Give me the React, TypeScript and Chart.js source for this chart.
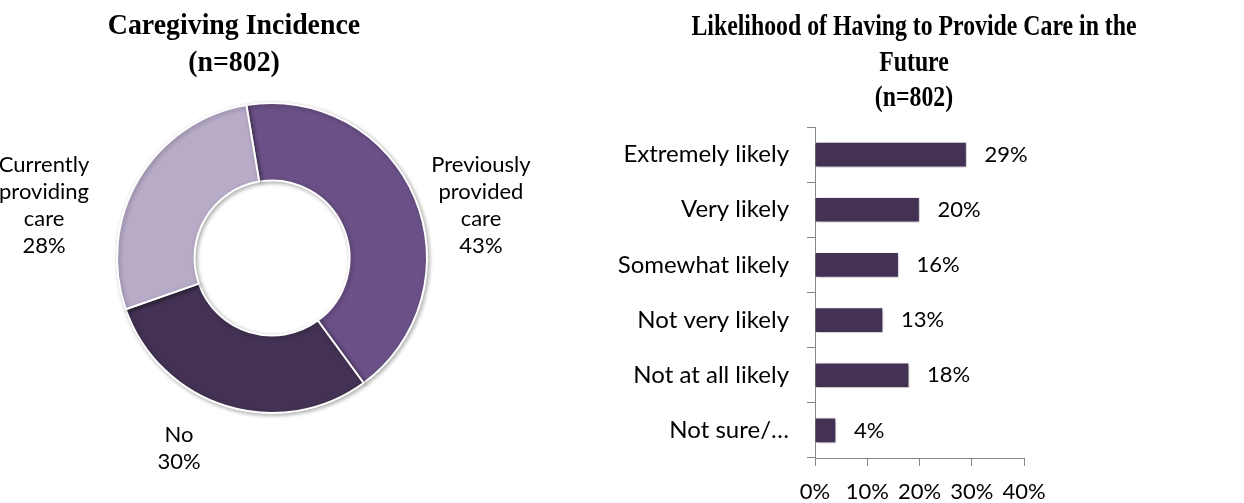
import React, { useEffect, useRef } from 'react';
import { Chart, registerables } from 'chart.js';

Chart.register(...registerables);

// ---- Data ----
const incidenceCategories = ['Previously provided care', 'No', 'Currently providing care'];
const incidenceLabelLines = [['Previously', 'provided', 'care'], ['No'], ['Currently', 'providing', 'care']];
const incidenceValues = [43, 30, 28];

const likelihoodCategories = ['Extremely likely', 'Very likely', 'Somewhat likely', 'Not very likely', 'Not at all likely', 'Not sure/…'];
const likelihoodValues = [29, 20, 16, 13, 18, 4];

const xAxisMin = 0;
const xAxisMax = 40;
const xAxisStep = 10;

const leftTitle = ['Caregiving Incidence', '(n=802)'];
const rightTitle = ['Likelihood of Having to Provide Care in the', 'Future', '(n=802)'];

// ---- Styles ----
const SLICE_COLORS = ['#6a5086', '#433253', '#b7abc8'];
const BAR_COLOR = '#433253';
const AXIS_COLOR = '#868686';
const LABEL_FONT = 'Lato, "Open Sans", sans-serif';
const LABEL_SIZE = 22;
const CAT_SIZE = 24;
const TITLE_FONT = '"Liberation Serif", "Times New Roman", serif';

const titlePlugin = {
  id: 'customTitle',
  afterDraw(chart: any, _args: any, opts: any) {
    const { ctx } = chart;
    ctx.save();
    ctx.font = `bold ${opts.size}px ${TITLE_FONT}`;
    ctx.fillStyle = '#000';
    ctx.textAlign = 'center';
    ctx.textBaseline = 'alphabetic';
    ctx.translate(opts.x, 0);
    ctx.scale(opts.scaleX, 1);
    (opts.lines as string[]).forEach((line, i) => {
      ctx.fillText(line, 0, opts.y + i * opts.lineHeight);
    });
    ctx.restore();
  },
};

const shadowPlugin = {
  id: 'softShadow',
  beforeDatasetDraw(chart: any) {
    const { ctx } = chart;
    ctx.save();
    ctx.shadowColor = 'rgba(0,0,0,0.3)';
    ctx.shadowBlur = 4;
    ctx.shadowOffsetX = 1.5;
    ctx.shadowOffsetY = 1.5;
  },
  afterDatasetDraw(chart: any) {
    chart.ctx.restore();
  },
};

const donutLabelPlugin = {
  id: 'donutLabels',
  afterDraw(chart: any, _args: any, opts: any) {
    const { ctx } = chart;
    const meta = chart.getDatasetMeta(0);
    const arc0 = meta.data[0] as any;
    const cx = arc0.x;
    const cy = arc0.y;
    const R = arc0.outerRadius;
    ctx.save();
    ctx.font = `${LABEL_SIZE}px ${LABEL_FONT}`;
    ctx.fillStyle = '#000';
    ctx.textAlign = 'center';
    ctx.textBaseline = 'middle';
    meta.data.forEach((_arc: any, i: number) => {
      const lines = [...incidenceLabelLines[i], `${incidenceValues[i]}%`];
      const [fx, fy] = opts.offsets[i];
      const bx = cx + fx * R;
      const by = cy + fy * R;
      const lh = opts.lineHeight;
      const startY = by - ((lines.length - 1) * lh) / 2;
      lines.forEach((t, j) => ctx.fillText(t, bx, startY + j * lh));
    });
    ctx.restore();
  },
};

const barLabelPlugin = {
  id: 'barLabels',
  afterDatasetsDraw(chart: any) {
    const { ctx } = chart;
    const meta = chart.getDatasetMeta(0);
    ctx.save();
    ctx.font = `${LABEL_SIZE}px ${LABEL_FONT}`;
    ctx.fillStyle = '#000';
    ctx.textAlign = 'left';
    ctx.textBaseline = 'middle';
    meta.data.forEach((bar: any, i: number) => {
      ctx.fillText(`${likelihoodValues[i]}%`, bar.x + 18, bar.y);
    });
    ctx.restore();
  },
};

function DonutChart() {
  const ref = useRef<HTMLCanvasElement | null>(null);
  useEffect(() => {
    if (!ref.current) return;
    const chart = new Chart(ref.current, {
      type: 'doughnut',
      data: {
        labels: incidenceCategories,
        datasets: [
          {
            data: incidenceValues,
            backgroundColor: SLICE_COLORS,
            borderColor: '#ffffff',
            borderWidth: 2,
          },
        ],
      },
      options: {
        animation: false,
        responsive: false,
        devicePixelRatio: 1,
        rotation: -9.5,
        cutout: '50%',
        radius: 155,
        layout: { padding: { left: 112, right: 128, top: 98, bottom: 85 } },
        plugins: {
          legend: { display: false },
          tooltip: { enabled: false },
          customTitle: { lines: leftTitle, x: 234, y: 34, lineHeight: 37, size: 29, scaleX: 0.96 },
          donutLabels: {
            offsets: [
              [1.348, -0.342],
              [-0.6, 1.23],
              [-1.471, -0.342],
            ],
            lineHeight: 27,
          },
        } as any,
      },
      plugins: [shadowPlugin, titlePlugin, donutLabelPlugin],
    });
    return () => chart.destroy();
  }, []);
  return (
    <canvas
      ref={ref}
      width={560}
      height={503}
      style={{ position: 'absolute', left: 0, top: 0, width: 560, height: 503 }}
    />
  );
}

function BarChart() {
  const ref = useRef<HTMLCanvasElement | null>(null);
  useEffect(() => {
    if (!ref.current) return;
    const chart = new Chart(ref.current, {
      type: 'bar',
      data: {
        labels: likelihoodCategories,
        datasets: [
          {
            data: likelihoodValues,
            backgroundColor: BAR_COLOR,
            borderColor: '#ffffff',
            borderWidth: 1,
            barThickness: 25,
          },
        ],
      },
      options: {
        indexAxis: 'y',
        animation: false,
        responsive: false,
        devicePixelRatio: 1,
        layout: { padding: { left: 0, right: 220, top: 127, bottom: 0 } },
        scales: {
          x: {
            min: xAxisMin,
            max: xAxisMax,
            ticks: {
              stepSize: xAxisStep,
              callback: (v: any) => `${v}%`,
              font: { family: LABEL_FONT, size: LABEL_SIZE, lineHeight: 1.0 },
              color: '#000',
              padding: 15,
              maxRotation: 0,
            },
            grid: { drawOnChartArea: false, drawTicks: true, tickLength: 8, color: AXIS_COLOR },
            border: { color: AXIS_COLOR, width: 1 },
            afterFit: (scale: any) => {
              scale.height = 45;
            },
          },
          y: {
            ticks: {
              font: { family: LABEL_FONT, size: CAT_SIZE },
              color: '#000',
              padding: 18,
            },
            grid: { offset: true, drawOnChartArea: false, drawTicks: true, tickLength: 8, color: AXIS_COLOR },
            border: { color: AXIS_COLOR, width: 1 },
            afterFit: (scale: any) => {
              scale.width = 255;
            },
          },
        },
        plugins: {
          legend: { display: false },
          tooltip: { enabled: false },
          customTitle: { lines: rightTitle, x: 354, y: 35, lineHeight: 35.5, size: 29, scaleX: 0.82 },
        } as any,
      },
      plugins: [shadowPlugin, barLabelPlugin, titlePlugin],
    });
    return () => chart.destroy();
  }, []);
  return (
    <canvas
      ref={ref}
      width={684}
      height={503}
      style={{ position: 'absolute', left: 560, top: 0, width: 684, height: 503 }}
    />
  );
}

export default function App() {
  return (
    <div style={{ position: 'absolute', left: 0, top: 0, width: 1244, height: 503, background: '#fff', overflow: 'hidden' }}>
      <DonutChart />
      <BarChart />
    </div>
  );
}
